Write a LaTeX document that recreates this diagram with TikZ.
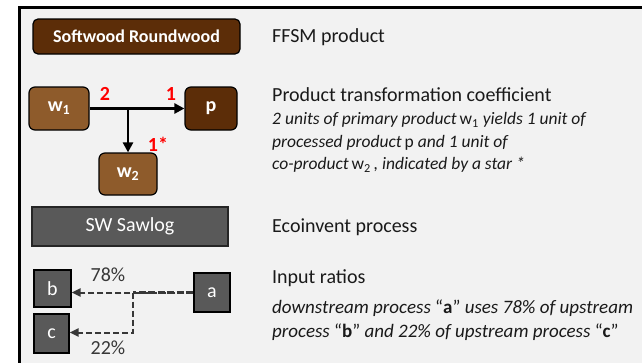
\documentclass[tikz,border=0pt]{standalone}
\usepackage{fontspec}
\setmainfont{Carlito}
\usetikzlibrary{arrows.meta}
\definecolor{darkbrown}{HTML}{5C2D08}
\definecolor{midbrown}{HTML}{8E5B2B}
\definecolor{procgray}{HTML}{595959}
\definecolor{bggray}{HTML}{F2F2F2}
\definecolor{txtgray}{HTML}{1A1A1A}
\definecolor{dashgray}{HTML}{383838}
\tikzset{
  big/.style={font=\fontsize{20}{24}\selectfont},
  small/.style={font=\fontsize{17.5}{22}\selectfont\itshape},
  smallb/.style={font=\fontsize{19}{22}\selectfont\itshape},
  ffsm/.style={draw=black, line width=1.2pt, rounded corners=5pt, fill=darkbrown, text=white, font=\fontsize{18}{22}\selectfont\bfseries, inner sep=0pt},
  wbox/.style={draw=black, line width=1.2pt, rounded corners=6pt, fill=midbrown, text=white, font=\fontsize{20}{24}\selectfont\bfseries, inner sep=0pt},
  pbox/.style={draw=black, line width=1.2pt, rounded corners=6pt, fill=darkbrown, text=white, font=\fontsize{20}{24}\selectfont\bfseries, inner sep=0pt},
  ecobox/.style={draw=black!85, line width=1.2pt, fill=procgray, text=white, font=\fontsize{20}{24}\selectfont, inner sep=0pt},
  lbox/.style={draw=black, line width=1.2pt, fill=procgray, text=white, font=\fontsize{20}{24}\selectfont, inner sep=0pt},
  coef/.style={text=red, font=\fontsize{20}{24}\selectfont\bfseries, inner sep=0pt},
  pct/.style={text=dashgray, font=\fontsize{20}{24}\selectfont, inner sep=0pt},
  desc/.style={anchor=west, text=txtgray, inner sep=0pt},
  flow/.style={line width=2.6pt, -{Triangle[length=10pt,width=10pt]}},
  ratio/.style={dashgray, line width=2pt, dash pattern=on 6pt off 3pt, -{Triangle[length=9pt,width=8pt]}},
}
\begin{document}
\begin{tikzpicture}[x=1pt,y=-1pt]
\useasboundingbox (0,0) rectangle (642,362);
\fill[white] (0,0) rectangle (642,362);
\draw[line width=3pt, fill=bggray] (19.5,7.5) rectangle (660,380);

\node[ffsm, minimum width=207pt, minimum height=35pt] (sr) at (136.5,36.5) {Softwood Roundwood};
\node[desc, big] (t1) at (272,37) {FFSM product};

\node[wbox, minimum width=60pt, minimum height=43pt] (w1) at (59,108.5) {w\textsubscript{1}};
\node[pbox, minimum width=52pt, minimum height=43pt] (p) at (211,108.5) {p};
\node[wbox, minimum width=58pt, minimum height=42pt] (w2) at (128,174) {w\textsubscript{2}};
\coordinate (br) at (w2.north |- w1.east);
\draw[flow] (w1.east) -- (p.west);
\draw[flow] (br) -- (w2.north);
\node[coef] (c2) at (105,94) {2};
\node[coef] (c1) at (171,94) {1};
\node[coef] (c1s) at (158,144) {1*};

\node[desc, big] (t2) at (272,95) {Product transformation coefficient};
\node[desc, small] (t2a) at (272,120) {2 units of primary product\,{\upshape w\textsubscript{1}} yields 1 unit of};
\node[desc, small] (t2b) at (272,143) {processed product\,{\upshape p} and 1 unit of};
\node[desc, small] (t2c) at (272,165) {co-product\,{\upshape w\textsubscript{2}}\,, indicated by a star *};

\node[ecobox, minimum width=196pt, minimum height=39pt] (sw) at (130,226.5) {SW Sawlog};
\node[desc, big] (t3) at (272,227) {Ecoinvent process};

\node[lbox, minimum width=37pt, minimum height=37pt] (b) at (52.5,288.5) {b};
\node[lbox, minimum width=35pt, minimum height=39pt] (c) at (51.5,333.5) {c};
\node[lbox, minimum width=36pt, minimum height=39pt] (a) at (212,292.5) {a};
\coordinate (ab) at (133,292.5);
\coordinate (cb) at (133,332.5);
\draw[ratio] (a.west) -- (b.east |- a.west);
\draw[ratio] (ab) -- (cb) -- (c.east |- cb);
\draw[dashgray, line width=3pt, dash pattern=on 7pt off 2.5pt] (a.west) -- (ab);
\node[pct] (p78) at (108,275) {78\%};
\node[pct] (p22) at (108,348) {22\%};

\node[desc, big] (t4) at (272,278) {Input ratios};
\node[desc, smallb] (t4a) at (272,308) {downstream process \textup{``\textbf{a}''} uses 78\% of upstream};
\node[desc, smallb] (t4b) at (272,332) {process \textup{``\textbf{b}''} and 22\% of upstream process \textup{``\textbf{c}''}};
\end{tikzpicture}
\end{document}
